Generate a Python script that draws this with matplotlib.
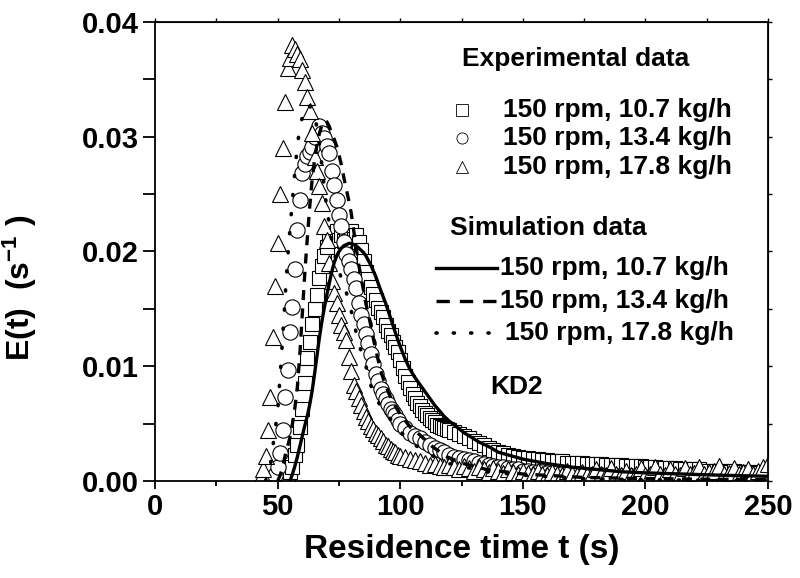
import matplotlib
matplotlib.use('Agg')
import matplotlib.pyplot as plt
import numpy as np

plt.rcParams['font.family'] = ['Liberation Sans', 'DejaVu Sans']
plt.rcParams['font.weight'] = 'bold'
plt.rcParams['mathtext.fontset'] = 'custom'
plt.rcParams['mathtext.rm'] = 'Liberation Sans:bold'
plt.rcParams['mathtext.bf'] = 'Liberation Sans:bold'
plt.rcParams['mathtext.default'] = 'bf'

# Experimental data, 150 rpm, 10.7 kg/h (squares)
t_sq = np.concatenate([np.arange(53, 121), np.arange(122, 252, 2)])
e_sq = [0.0000, 0.0004, 0.0008, 0.0012, 0.0023, 0.0031, 0.0047, 0.0063, 0.0085, 0.0107,
        0.0121, 0.0137, 0.0150, 0.0162, 0.0177, 0.0187, 0.0196, 0.0204, 0.0213, 0.0216,
        0.0212, 0.0218, 0.0210, 0.0214, 0.0209, 0.0216, 0.0213, 0.0218, 0.0211, 0.0214,
        0.0208, 0.0201, 0.0192, 0.0182, 0.0176, 0.0169, 0.0163, 0.0158, 0.0151, 0.0147,
        0.0143, 0.0136, 0.0131, 0.0127, 0.0121, 0.0117, 0.0112, 0.0105, 0.0098, 0.0091,
        0.0086, 0.0081, 0.0076, 0.0072, 0.0068, 0.0065, 0.0062, 0.0059, 0.0057, 0.0055,
        0.0053, 0.0051, 0.0049, 0.0048, 0.0047, 0.0046, 0.0045, 0.0044,
        0.0043, 0.0041, 0.0039, 0.0037, 0.0035, 0.0033, 0.0031, 0.0029, 0.0027, 0.0025,
        0.0024, 0.0023, 0.0022, 0.0021, 0.0020, 0.0020, 0.0019, 0.0019, 0.0018, 0.0018,
        0.0017, 0.0017, 0.0017, 0.0016, 0.0016, 0.0016, 0.0016, 0.0015, 0.0015, 0.0015,
        0.0015, 0.0014, 0.0014, 0.0014, 0.0014, 0.0013, 0.0013, 0.0013, 0.0013, 0.0012,
        0.0012, 0.0012, 0.0011, 0.0011, 0.0011, 0.0011, 0.0010, 0.0010, 0.0010, 0.0010,
        0.0010, 0.0009, 0.0009, 0.0009, 0.0009, 0.0009, 0.0008, 0.0009, 0.0008, 0.0008,
        0.0008, 0.0008, 0.0007, 0.0008, 0.0007]

# Experimental data, 150 rpm, 13.4 kg/h (circles)
t_ci = np.concatenate([np.arange(48, 101), np.arange(102, 252, 2)])
e_ci = [0.0000, 0.0005, 0.0012, 0.0024, 0.0044, 0.0073, 0.0097, 0.0130, 0.0152, 0.0185,
        0.0219, 0.0245, 0.0268, 0.0276, 0.0283, 0.0287, 0.0291, 0.0300, 0.0305, 0.0309,
        0.0303, 0.0299, 0.0292, 0.0286, 0.0270, 0.0258, 0.0245, 0.0232, 0.0222, 0.0208,
        0.0198, 0.0192, 0.0185, 0.0176, 0.0168, 0.0155, 0.0145, 0.0137, 0.0128, 0.0120,
        0.0111, 0.0102, 0.0093, 0.0087, 0.0080, 0.0076, 0.0071, 0.0067, 0.0063, 0.0060,
        0.0057, 0.0053, 0.0050,
        0.0046, 0.0042, 0.0039, 0.0037, 0.0034, 0.0031, 0.0029, 0.0027, 0.0025, 0.0023,
        0.0021, 0.0020, 0.0019, 0.0018, 0.0017, 0.0016, 0.0015, 0.0014, 0.0013, 0.0012,
        0.0012, 0.0011, 0.0010, 0.0010, 0.0009, 0.0009, 0.0008, 0.0008, 0.0008, 0.0007,
        0.0007, 0.0007, 0.0006, 0.0006, 0.0006, 0.0006, 0.0005, 0.0005, 0.0005, 0.0005,
        0.0005, 0.0004, 0.0004, 0.0004, 0.0004, 0.0004, 0.0004, 0.0003, 0.0004, 0.0003,
        0.0003, 0.0003, 0.0003, 0.0003, 0.0003, 0.0003, 0.0003, 0.0002, 0.0003, 0.0002,
        0.0002, 0.0002, 0.0002, 0.0002, 0.0002, 0.0002, 0.0002, 0.0002, 0.0002, 0.0002,
        0.0002, 0.0002, 0.0002, 0.0002, 0.0002]

# Experimental data, 150 rpm, 17.8 kg/h (triangles)
t_tr = np.concatenate([np.arange(43, 101), np.arange(102, 252, 2)])
e_tr = [0.0003, 0.0010, 0.0022, 0.0044, 0.0073, 0.0125, 0.0170, 0.0207, 0.0250, 0.0290,
        0.0330, 0.0360, 0.0369, 0.0380, 0.0376, 0.0372, 0.0368, 0.0358, 0.0348, 0.0335,
        0.0322, 0.0303, 0.0282, 0.0270, 0.0257, 0.0242, 0.0222, 0.0210, 0.0190, 0.0174,
        0.0164, 0.0155, 0.0145, 0.0136, 0.0130, 0.0123, 0.0108, 0.0096, 0.0084, 0.0078,
        0.0072, 0.0066, 0.0061, 0.0056, 0.0052, 0.0048, 0.0045, 0.0042, 0.0040, 0.0037,
        0.0035, 0.0031, 0.0030, 0.0028, 0.0026, 0.0025, 0.0023, 0.0022,
        0.0021, 0.0019, 0.0018, 0.0017, 0.0016, 0.0014, 0.0015, 0.0013, 0.0012, 0.0014,
        0.0012, 0.0010, 0.0013, 0.0011, 0.0009, 0.0012, 0.0010, 0.0008, 0.0011, 0.0009,
        0.0007, 0.0010, 0.0008, 0.0006, 0.0009, 0.0007, 0.0006, 0.0009, 0.0006, 0.0005,
        0.0008, 0.0006, 0.0005, 0.0009, 0.0006, 0.0005, 0.0008, 0.0005, 0.0006, 0.0010,
        0.0006, 0.0005, 0.0011, 0.0006, 0.0005, 0.0009, 0.0005, 0.0006, 0.0011, 0.0005,
        0.0006, 0.0012, 0.0006, 0.0005, 0.0010, 0.0006, 0.0005, 0.0011, 0.0006, 0.0007,
        0.0012, 0.0006, 0.0008, 0.0009, 0.0013, 0.0006, 0.0007, 0.0011, 0.0006, 0.0008,
        0.0010, 0.0006, 0.0009, 0.0012, 0.0015]

# Simulation data (model curves)
t_s1 = [55, 56, 57, 58, 59, 60, 61, 62, 63, 64, 65, 66, 67, 68, 69, 70, 71, 72, 73, 74,
        75, 76, 77, 78, 79, 80, 81, 82, 83, 84, 85, 86, 87, 88, 89, 90, 92, 94, 96, 98,
        100, 102, 104, 106, 108, 110, 112, 114, 116, 118, 120, 123, 126, 129, 132, 136,
        140, 145, 150, 160, 170, 180, 190, 200, 215, 230, 250]
e_s1 = [0.0000, 0.0006, 0.0013, 0.0021, 0.0030, 0.0039, 0.0048, 0.0056, 0.0066, 0.0078,
        0.0093, 0.0109, 0.0125, 0.0139, 0.0151, 0.0162, 0.0172, 0.0182, 0.0190, 0.0196,
        0.0200, 0.0203, 0.0205, 0.0206, 0.0207, 0.0207, 0.0206, 0.0205, 0.0203, 0.0201,
        0.0199, 0.0196, 0.0192, 0.0188, 0.0183, 0.0178, 0.0166, 0.0155, 0.0142, 0.0129,
        0.0117, 0.0106, 0.0097, 0.0090, 0.0084, 0.0078, 0.0072, 0.0066, 0.0061, 0.0056,
        0.0052, 0.0047, 0.0042, 0.0038, 0.0034, 0.0030, 0.0025, 0.0022, 0.0019, 0.0015,
        0.0012, 0.0010, 0.0008, 0.0007, 0.0006, 0.0005, 0.0004]

t_s2 = [50, 51, 52, 53, 54, 55, 56, 57, 58, 59, 60, 61, 62, 63, 64, 65, 66, 67, 68, 69,
        70, 71, 72, 73, 74, 75, 76, 77, 78, 79, 80, 81, 82, 83, 84, 85, 86, 87, 88, 89,
        90, 92, 94, 96, 98, 100, 104, 108, 113, 119, 126, 135, 150, 175, 200, 250]
e_s2 = [0.0000, 0.0005, 0.0012, 0.0022, 0.0030, 0.0038, 0.0050, 0.0064, 0.0082, 0.0110,
        0.0145, 0.0180, 0.0210, 0.0238, 0.0262, 0.0280, 0.0293, 0.0303, 0.0310, 0.0314,
        0.0313, 0.0309, 0.0303, 0.0298, 0.0292, 0.0284, 0.0275, 0.0264, 0.0254, 0.0244,
        0.0233, 0.0218, 0.0203, 0.0189, 0.0177, 0.0166, 0.0154, 0.0145, 0.0135, 0.0124,
        0.0114, 0.0096, 0.0083, 0.0073, 0.0065, 0.0058, 0.0047, 0.0040, 0.0030, 0.0021,
        0.0015, 0.0010, 0.0006, 0.0003, 0.0002, 0.0001]

t_s3 = [45, 46, 47, 48, 49, 50, 51, 52, 53, 54, 55, 56, 57, 58, 59, 60, 61, 62, 63, 64,
        65, 66, 67, 68, 69, 70, 72, 74, 76, 78, 80, 82, 84, 86, 88, 90, 93, 96, 100, 105,
        110, 120, 135, 150, 175, 200, 250]
e_s3 = [0.0000, 0.0006, 0.0014, 0.0030, 0.0045, 0.0062, 0.0093, 0.0125, 0.0160, 0.0193,
        0.0220, 0.0245, 0.0270, 0.0293, 0.0307, 0.0317, 0.0324, 0.0328, 0.0327, 0.0323,
        0.0318, 0.0308, 0.0293, 0.0275, 0.0255, 0.0238, 0.0210, 0.0190, 0.0176, 0.0164,
        0.0148, 0.0129, 0.0113, 0.0100, 0.0083, 0.0072, 0.0062, 0.0054, 0.0043, 0.0033,
        0.0025, 0.0015, 0.0008, 0.0005, 0.0002, 0.0001, 0.0000]

exp_labels = ['150 rpm, 10.7 kg/h', '150 rpm, 13.4 kg/h', '150 rpm, 17.8 kg/h']
sim_labels = ['150 rpm, 10.7 kg/h', '150 rpm, 13.4 kg/h', '150 rpm, 17.8 kg/h']
x_major = [0, 50, 100, 150, 200, 250]
x_minor = [25, 75, 125, 175, 225]
y_major = [0.0, 0.01, 0.02, 0.03, 0.04]
y_minor = [0.005, 0.015, 0.025, 0.035]
y_ticklabels = ['0.00', '0.01', '0.02', '0.03', '0.04']

fig = plt.figure(figsize=(8, 5.78), dpi=100)
ax = fig.add_axes([0.194, 0.168, 0.766, 0.794])

mk = dict(linestyle='none', markerfacecolor='white', markeredgecolor='black',
          markeredgewidth=0.8)
ax.plot(t_sq, e_sq, marker='s', markersize=10, **mk)
ax.plot(t_ci, e_ci, marker='o', markersize=11, **mk)
ax.plot(t_tr, e_tr, marker='^', markersize=12, **mk)

ax.plot(t_s1, e_s1, color='black', lw=2.4)
ax.plot(t_s2, e_s2, color='black', lw=2.4, linestyle=(0, (3, 2.5)))
ax.plot(t_s3, e_s3, color='black', lw=2.6, linestyle=(0, (0.3, 5)),
        dash_capstyle='round')

ax.set_xlim(0, 250)
ax.set_ylim(0, 0.04)
ax.set_xticks(x_major)
ax.set_xticks(x_minor, minor=True)
ax.set_yticks(y_major)
ax.set_yticks(y_minor, minor=True)
ax.set_yticklabels(y_ticklabels)
ax.tick_params(which='both', direction='out', width=1.3, labelsize=21)
ax.tick_params(axis='x', which='major', length=6, pad=3)
ax.tick_params(axis='x', which='minor', length=3.6)
ax.tick_params(axis='y', which='major', length=9, pad=3)
ax.tick_params(axis='y', which='minor', length=9)
for s in ax.spines.values():
    s.set_linewidth(1.3)

# short outward ticks on the top and right frame
top = ax.secondary_xaxis('top')
top.set_xticks(x_major)
top.set_xticks(x_minor, minor=True)
top.tick_params(which='both', direction='out', length=3, width=1.0,
                labeltop=False)
right = ax.secondary_yaxis('right')
right.set_yticks(y_major)
right.set_yticks(y_minor, minor=True)
right.tick_params(which='both', direction='out', length=3, width=1.0,
                  labelright=False)

ax.set_xlabel('Residence time t (s)', fontsize=24, fontweight='bold', labelpad=9)
ax.set_ylabel('E(t)  (s$^{-1}$ )', fontsize=23, fontweight='bold')
ax.yaxis.set_label_coords(-0.19, 0.42)

# legend drawn by hand in axes coordinates
tr = ax.transAxes
ax.text(0.500, 0.919, 'Experimental data', transform=tr, fontsize=19,
        fontweight='bold', va='center', ha='left')
for i, (m, lab) in enumerate(zip(['s', 'o', '^'], exp_labels)):
    y = 0.808 - i * 0.0615
    ax.plot([0.500], [y], marker=m, markersize=8, markerfacecolor='white',
            markeredgecolor='black', markeredgewidth=0.6, transform=tr,
            clip_on=False)
    ax.text(0.568, y, lab, transform=tr, fontsize=19, fontweight='bold',
            va='center', ha='left')

ax.text(0.481, 0.551, 'Simulation data', transform=tr, fontsize=19,
        fontweight='bold', va='center', ha='left')
styles = [dict(linestyle='-', lw=2.4),
          dict(linestyle=(0, (4, 3)), lw=2.4),
          dict(linestyle=(0, (0.3, 4.5)), lw=2.6, dash_capstyle='round')]
for i, (st, lab) in enumerate(zip(styles, sim_labels)):
    y = 0.463 - i * 0.0705
    ax.plot([0.459, 0.557], [y, y], color='black', transform=tr, **st)
    ax.text(0.5625 + (0.008 if i == 2 else 0), y, lab, transform=tr, fontsize=19,
            fontweight='bold', va='center', ha='left')

ax.text(0.546, 0.205, 'KD2', transform=tr, fontsize=19, fontweight='bold',
        va='center', ha='left')

fig.savefig('out.png', dpi=100)
